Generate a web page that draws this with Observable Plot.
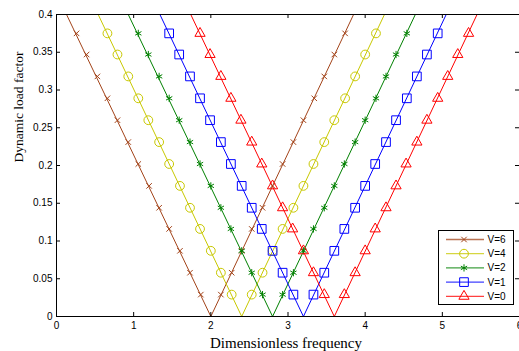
<!DOCTYPE html>
<html>
<head>
<meta charset="utf-8">
<script src="https://cdn.jsdelivr.net/npm/d3@7"></script>
<script src="https://cdn.jsdelivr.net/npm/@observablehq/plot@0.6"></script>
<style>
  html, body { margin: 0; padding: 0; background: #fff; }
  #wrap { position: relative; width: 519px; height: 351px; overflow: hidden; }
  #legend { position: absolute; left: 438px; top: 230px; width: 74px; height: 73px;
            border: 1px solid #000; background: #fff; box-sizing: content-box; }
</style>
</head>
<body>
<div id="wrap"></div>
<script>
// ---- data ----
const seriesNames = ["V=6", "V=4", "V=2", "V=1", "V=0"];
const seriesColors = ["#a3441a", "#c8c800", "#008000", "#0000ff", "#ff0000"];
const seriesSymbols = ["times", "circle", "asterisk", "square", "triangle"];

// Line vertices: frequency where the line leaves the top, the zero vertex, and where it leaves the top again
const lineFreq = {
  "V=6": [0.13, 2.0, 3.85],
  "V=4": [0.54, 2.4, 4.25],
  "V=2": [0.93, 2.8, 4.65],
  "V=1": [1.34, 3.2, 5.05],
  "V=0": [1.74, 3.6, 5.45]
};
const lineDLF = [0.4, 0, 0.4];

// Marker frequencies (left branch then right branch)
const markerFreq = {
  "V=6": [0.26,0.39,0.53,0.66,0.79,0.93,1.06,1.20,1.33,1.46,1.60,1.73,1.87,
          2.13,2.27,2.40,2.53,2.67,2.80,2.93,3.07,3.20,3.34,3.47,3.60,3.74],
  "V=4": [0.66,0.79,0.93,1.06,1.19,1.33,1.46,1.60,1.73,1.86,2.00,2.13,2.27,
          2.53,2.67,2.80,2.93,3.07,3.20,3.33,3.47,3.60,3.74,3.87,4.00,4.14],
  "V=2": [1.06,1.19,1.33,1.46,1.59,1.73,1.86,2.00,2.13,2.26,2.40,2.53,2.67,
          2.93,3.07,3.20,3.33,3.47,3.60,3.73,3.87,4.00,4.14,4.27,4.40,4.54],
  "V=1": [1.46,1.59,1.73,1.86,1.99,2.13,2.26,2.40,2.53,2.66,2.80,2.93,3.07,
          3.33,3.47,3.60,3.73,3.87,4.00,4.13,4.27,4.40,4.54,4.67,4.80,4.94],
  "V=0": [1.86,1.99,2.13,2.26,2.39,2.53,2.66,2.80,2.93,3.06,3.20,3.33,3.47,
          3.73,3.87,4.00,4.13,4.27,4.40,4.53,4.67,4.80,4.94,5.07,5.20,5.34]
};
// Dynamic load factor at the markers (same rows for every series)
const markerDLF = [0.375,0.347,0.318,0.289,0.260,0.231,0.202,0.173,0.144,0.116,0.087,0.058,0.029,
                   0.029,0.058,0.087,0.116,0.144,0.173,0.202,0.231,0.260,0.289,0.318,0.347,0.375];

const xTicks = [0, 1, 2, 3, 4, 5, 6];
const yTicks = [0, 0.05, 0.1, 0.15, 0.2, 0.25, 0.3, 0.35, 0.4];
const xLabel = "Dimensionless frequency";
const yLabel = "Dynamic load factor";

// ---- build tables ----
const lineRows = [];
const markerRows = [];
seriesNames.forEach((name) => {
  lineFreq[name].forEach((f, i) => lineRows.push({series: name, f, dlf: lineDLF[i]}));
  markerFreq[name].forEach((f, i) => markerRows.push({series: name, f, dlf: markerDLF[i]}));
});

const W = 519, H = 351;
const mL = 56, mR = 0, mT = 14, mB = 35;
const plotW = W - mL - mR, plotH = H - mT - mB;
const tick = 4;
const sansFont = "'Liberation Sans', Arial, Helvetica, sans-serif";
const serifFont = "'Liberation Serif', 'Times New Roman', serif";

const colorScale = {domain: seriesNames, range: seriesColors};
const symbolScale = {domain: seriesNames, range: seriesSymbols};

const markSize = {"V=6": 2.6, "V=4": 4.4, "V=2": 3.4, "V=1": 4.9, "V=0": 3.8};

const chart = Plot.plot({
  width: W, height: H,
  marginLeft: mL, marginRight: mR, marginTop: mT, marginBottom: mB,
  x: {domain: [0, 6], label: null},
  y: {domain: [0, 0.4], label: null},
  color: colorScale,
  symbol: symbolScale,
  style: {fontFamily: sansFont, fontSize: "10px", color: "#000", background: "#fff"},
  marks: [
    Plot.line(lineRows, {x: "f", y: "dlf", z: "series", stroke: "series", strokeWidth: 1, clip: true}),
    ...seriesNames.map(name => Plot.dot(markerRows.filter(d => d.series === name), {
      x: "f", y: "dlf", stroke: "series", symbol: "series", fill: "none",
      r: markSize[name], strokeWidth: 1
    })),
    Plot.frame({stroke: "#000", strokeWidth: 1}),
    // inward ticks (MATLAB style) on all four sides
    Plot.tickX(xTicks, {x: d => d, insetTop: plotH - tick, stroke: "#000"}),
    Plot.tickX(xTicks, {x: d => d, insetBottom: plotH - tick, stroke: "#000"}),
    Plot.tickY(yTicks, {y: d => d, insetRight: plotW - tick, stroke: "#000"}),
    Plot.tickY(yTicks, {y: d => d, insetLeft: plotW - tick, stroke: "#000"}),
    Plot.axisX(xTicks, {tickSize: 0, tickPadding: 5, label: null, tickFormat: d => String(d), fontSize: 10}),
    Plot.axisY(yTicks, {tickSize: 0, tickPadding: 4, label: null, tickFormat: d => String(d), fontSize: 10}),
    Plot.text([xLabel], {text: d => d, frameAnchor: "bottom", dx: -2, dy: 31, lineAnchor: "bottom",
      fontFamily: serifFont, fontSize: 15, fill: "#000"}),
    Plot.text([yLabel], {text: d => d, frameAnchor: "left", dx: -38, dy: -3, rotate: -90,
      fontFamily: serifFont, fontSize: 13.5, fill: "#000"})
  ]
});

const wrap = document.getElementById("wrap");
wrap.appendChild(chart);

// ---- legend (HTML box with small swatches) ----
const legend = d3.select(wrap).append("div").attr("id", "legend");
const lsvg = legend.append("svg").attr("width", 74).attr("height", 73);
const symbolPath = {
  "times": d3.symbolTimes, "circle": d3.symbolCircle, "asterisk": d3.symbolAsterisk,
  "square": d3.symbolSquare, "triangle": d3.symbolTriangle
};
seriesNames.forEach((name, i) => {
  const cy = 8.5 + i * 14.2;
  const g = lsvg.append("g").attr("transform", `translate(0,${cy})`);
  g.append("line").attr("x1", 7).attr("x2", 45).attr("y1", 0).attr("y2", 0)
    .attr("stroke", seriesColors[i]).attr("stroke-width", 1.3).attr("stroke-opacity", 0.75);
  const r = markSize[name];
  const path = d3.symbol(symbolPath[seriesSymbols[i]], Math.PI * r * r)();
  g.append("path").attr("d", path).attr("transform", "translate(25,0)")
    .attr("fill", "none").attr("stroke", seriesColors[i]).attr("stroke-width", 1);
  g.append("text").attr("x", 48.5).attr("y", 0).attr("dy", "0.35em")
    .attr("font-family", sansFont).attr("font-size", 10).attr("fill", "#000").text(name);
});
</script>
</body>
</html>
